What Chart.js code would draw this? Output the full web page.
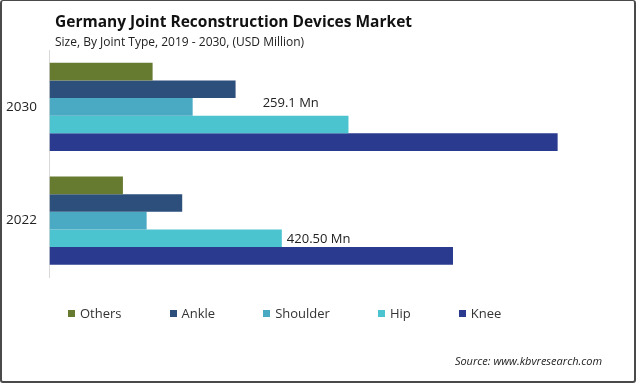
<!DOCTYPE html>
<html>
<head>
<meta charset="utf-8">
<script src="https://cdn.jsdelivr.net/npm/chart.js@4.4.0/dist/chart.umd.min.js"></script>
<style>
  html, body { margin: 0; padding: 0; background: #fff; }
  #wrap { position: relative; width: 636px; height: 383px; overflow: hidden; font-family: "Open Sans", sans-serif; }
  #frame { position: absolute; left: 0; top: 0; width: 636px; height: 383px; box-sizing: border-box;
           border: 2px solid #4a4a4a; border-top-width: 1px; border-radius: 3px; pointer-events: none; }
  #c { position: absolute; left: 0; top: 0; }
  #title { position: absolute; left: 55px; top: 10px; font-size: 15.5px; font-weight: 700; color: #111; white-space: nowrap; }
  #subtitle { position: absolute; left: 55px; top: 33px; font-size: 12px; color: #222; white-space: nowrap; }
  #legend { position: absolute; left: 68px; top: 304px; display: flex; align-items: center; font-size: 13px; color: #333; white-space: nowrap; }
  .li { display: flex; align-items: center; margin-right: 48px; }
  .sw { width: 7px; height: 7px; margin-right: 5px; }
  #source { position: absolute; right: 34px; top: 353px; font-size: 11px; font-style: italic; color: #222; white-space: nowrap; }
</style>
</head>
<body>
<div id="wrap">
  <canvas id="c" width="636" height="383"></canvas>
  <div id="title">Germany Joint Reconstruction Devices Market</div>
  <div id="subtitle">Size, By Joint Type, 2019 - 2030, (USD Million)</div>
  <div id="legend"></div>
  <div id="source">Source: www.kbvresearch.com</div>
  <div id="frame"></div>
</div>
<script>
const years = ['2030', '2022'];
const seriesNames = ['Others', 'Ankle', 'Shoulder', 'Hip', 'Knee'];
const others = [186.6, 132.9];
const ankle = [336.8, 240.2];
const shoulder = [259.1, 175.8];
const hip = [541.1, 420.5];
const knee = [919.7, 730.3];
const valueLabels = [
  { series: 'Shoulder', year: '2030', text: '259.1 Mn' },
  { series: 'Hip', year: '2022', text: '420.50 Mn' }
];

const colors = ['#667a30', '#2d4f7c', '#4aaac4', '#4cc4d0', '#2a3a8f'];
const values = [others, ankle, shoulder, hip, knee];

const labelOffsets = { 'Shoulder|2030': { dx: 70, dy: -4 }, 'Hip|2022': { dx: 5, dy: 1 } };

const labelPlugin = {
  id: 'valueLabels',
  afterDatasetsDraw(chart) {
    const ctx = chart.ctx;
    ctx.save();
    ctx.font = '13px "Open Sans", sans-serif';
    ctx.fillStyle = '#222';
    ctx.textBaseline = 'middle';
    ctx.textAlign = 'left';
    valueLabels.forEach(l => {
      const di = seriesNames.indexOf(l.series);
      const ii = years.indexOf(l.year);
      const el = chart.getDatasetMeta(di).data[ii];
      const off = labelOffsets[l.series + '|' + l.year] || { dx: 5, dy: 0 };
      ctx.fillText(l.text, el.x + off.dx, el.y + off.dy);
    });
    ctx.restore();
  }
};

const chart = new Chart(document.getElementById('c'), {
  type: 'bar',
  data: {
    labels: years,
    datasets: seriesNames.map((n, i) => ({
      label: n,
      data: values[i],
      backgroundColor: colors[i],
      borderWidth: 0,
      categoryPercentage: 0.775,
      barPercentage: 1.0
    }))
  },
  options: {
    indexAxis: 'y',
    responsive: false,
    animation: false,
    devicePixelRatio: 1,
    layout: { padding: { left: 4, right: 34, top: 50, bottom: 105.5 } },
    plugins: { legend: { display: false }, tooltip: { enabled: false }, title: { display: false } },
    scales: {
      x: { display: false, min: 0, max: 1000 },
      y: {
        grid: { display: false, drawTicks: false },
        border: { display: true, color: '#d9d9d9', width: 1 },
        ticks: { color: '#222', font: { family: '"Open Sans", sans-serif', size: 13.5 }, padding: 12.5 },
        afterFit(scale) { scale.width = 45.5; }
      }
    }
  },
  plugins: [labelPlugin]
});

const leg = document.getElementById('legend');
chart.data.datasets.forEach(ds => {
  const it = document.createElement('div');
  it.className = 'li';
  const sw = document.createElement('span');
  sw.className = 'sw';
  sw.style.background = ds.backgroundColor;
  const tx = document.createElement('span');
  tx.textContent = ds.label;
  it.appendChild(sw); it.appendChild(tx);
  leg.appendChild(it);
});
</script>
</body>
</html>
